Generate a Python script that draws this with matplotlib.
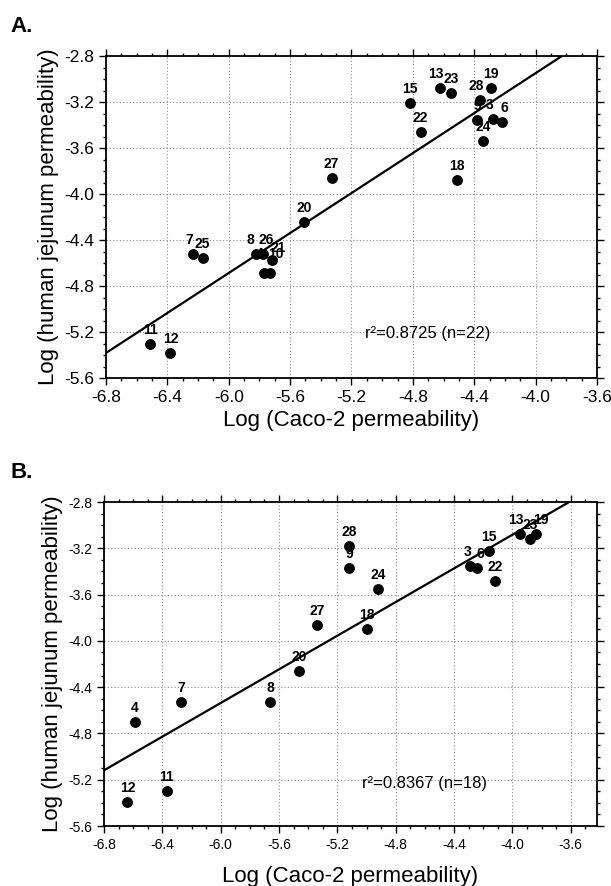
import matplotlib
matplotlib.use("Agg")
import matplotlib.pyplot as plt
import numpy as np
from matplotlib.ticker import MultipleLocator

plt.rcParams["font.family"] = ["Liberation Sans", "DejaVu Sans"]

# panel A: all compounds (n=22)
a_labels = ["11", "12", "7", "25", "8", "26", "21", "4", "10", "20", "27",
            "15", "22", "13", "23", "28", "19", "9", "3", "6", "24", "18"]
a_caco = [-6.51, -6.38, -6.23, -6.17, -5.82, -5.78, -5.72, -5.77, -5.73, -5.51, -5.33,
          -4.82, -4.75, -4.62, -4.55, -4.36, -4.29, -4.38, -4.28, -4.22, -4.34, -4.51]
a_human = [-5.30, -5.38, -4.52, -4.56, -4.52, -4.52, -4.57, -4.69, -4.69, -4.24, -3.86,
           -3.21, -3.46, -3.08, -3.12, -3.18, -3.08, -3.36, -3.35, -3.37, -3.54, -3.88]
a_fit = (0.869, 0.527)
a_text = "r\u00b2=0.8725 (n=22)"

# panel B: subset (n=18)
b_labels = ["12", "11", "4", "7", "8", "20", "27", "18", "24", "9", "28",
            "3", "6", "15", "22", "13", "23", "19"]
b_caco = [-6.64, -6.37, -6.59, -6.27, -5.66, -5.46, -5.34, -5.00, -4.92, -5.12, -5.12,
          -4.29, -4.24, -4.16, -4.12, -3.95, -3.88, -3.84]
b_human = [-5.39, -5.30, -4.70, -4.53, -4.53, -4.26, -3.86, -3.90, -3.55, -3.37, -3.18,
           -3.35, -3.37, -3.22, -3.48, -3.08, -3.12, -3.08]
b_fit = (0.727, -0.175)
b_text = "r\u00b2=0.8367 (n=18)"

# small nudges for crowded labels (points)
a_nudge = {"7": (-3, 0), "8": (-4, 0), "26": (3, 0), "21": (5, -2), "4": (-3, 4), "10": (4, 4),
           "13": (-3, 0), "28": (-3, 0), "3": (-2, 0), "6": (2, 0)}
b_nudge = {"3": (-2, 0), "6": (2, 0), "13": (-3, 0), "19": (4, 0)}

W, H = 611, 886
fig = plt.figure(figsize=(W / 100, H / 100), dpi=100)


def panel(rect, xs, ys, labels, nudge, fit, text, xmax, tick_fs, text_xy, letter, letter_y, labelpad):
    ax = fig.add_axes(rect)
    ax.set_xlim(-6.8, xmax)
    ax.set_ylim(-5.6, -2.8)
    ax.xaxis.set_major_locator(MultipleLocator(0.4))
    ax.yaxis.set_major_locator(MultipleLocator(0.4))
    ax.xaxis.set_minor_locator(MultipleLocator(0.1))
    ax.yaxis.set_minor_locator(MultipleLocator(0.1))
    ax.xaxis.set_major_formatter(lambda v, p: f"{v:.1f}")
    ax.yaxis.set_major_formatter(lambda v, p: f"{v:.1f}")
    ax.tick_params(which="both", direction="out", top=True, right=True,
                   labeltop=False, labelright=False, labelsize=tick_fs, width=1)
    ax.tick_params(which="major", length=5)
    ax.tick_params(which="minor", length=2.5)
    ax.grid(True, which="major", linestyle=(0, (1, 2)), color="#888888", linewidth=0.8)
    for s in ax.spines.values():
        s.set_linewidth(1.3)

    xl = np.array([-6.8, xmax])
    ax.plot(xl, fit[0] * xl + fit[1], color="black", linewidth=1.6, zorder=2)
    ax.scatter(xs, ys, s=46, color="black", zorder=3)
    for x, y, lab in zip(xs, ys, labels):
        dx, dy = nudge.get(lab, (0, 0))
        ax.annotate(lab, (x, y), xytext=(dx, 5 + dy), textcoords="offset points",
                    ha="center", va="bottom", fontsize=10, fontweight="bold", zorder=4)
    ax.text(text_xy[0], text_xy[1], text, fontsize=12, ha="left", va="center")
    ax.set_xlabel("Log (Caco-2 permeability)", fontsize=16, labelpad=labelpad)
    ax.set_ylabel("Log (human jejunum permeability)", fontsize=16, labelpad=4)
    fig.text(10 / W, letter_y, letter, fontsize=16, fontweight="bold", va="center")
    return ax


panel([106 / W, (H - 378) / H, 491 / W, 322 / H], a_caco, a_human, a_labels, a_nudge, a_fit,
      a_text, -3.6, 12.5, (-5.11, -5.21), "A.", (H - 26) / H, 4)
panel([104 / W, (H - 826) / H, 493 / W, 324 / H], b_caco, b_human, b_labels, b_nudge, b_fit,
      b_text, -3.42, 10, (-5.03, -5.23), "B.", (H - 472) / H, 10)

fig.savefig("out.png", dpi=100)
